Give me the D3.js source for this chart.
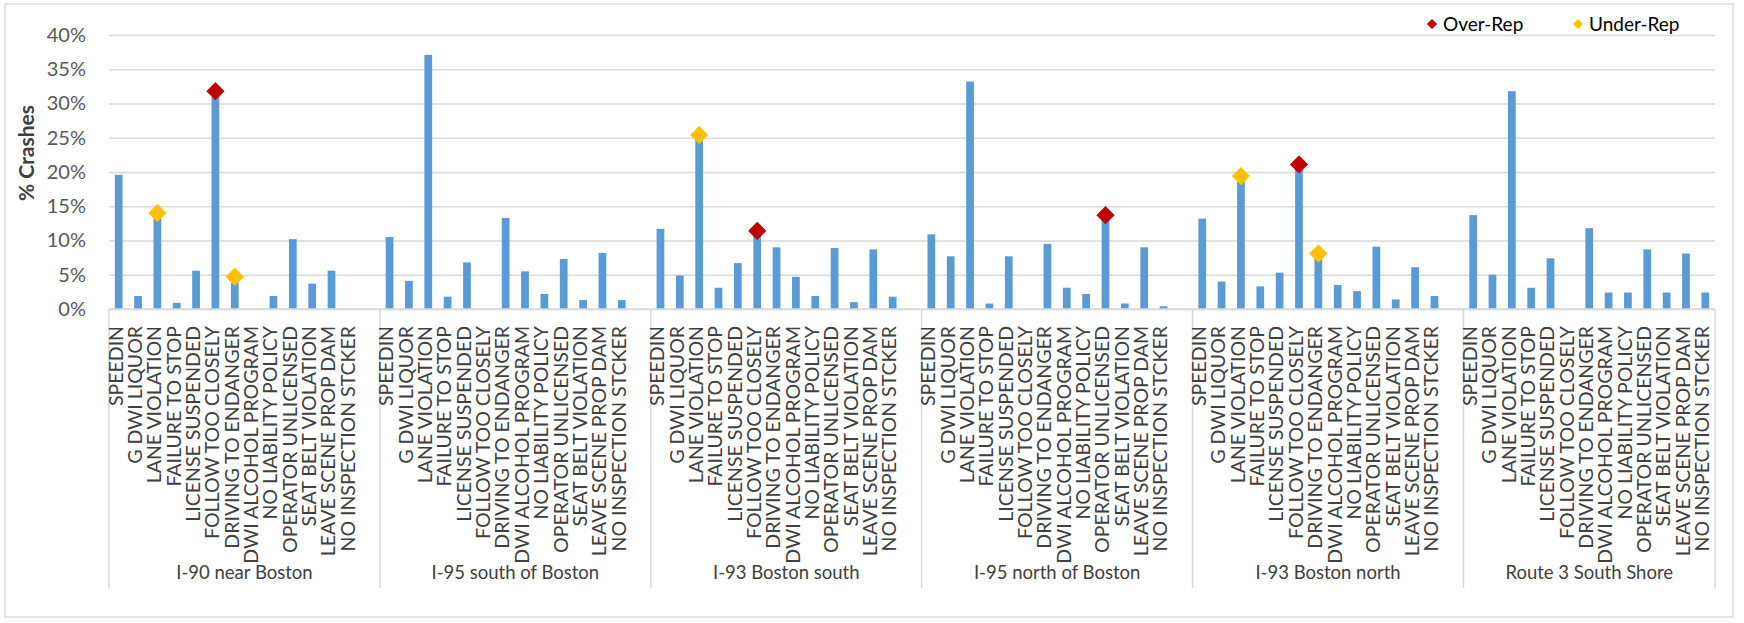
<!DOCTYPE html>
<html>
<head>
<meta charset="utf-8">
<script src="https://cdn.jsdelivr.net/npm/d3@7"></script>
<style>
	body { margin: 0; background: #fff; }
	svg { display: block; font-family: Lato, "Open Sans", sans-serif; }
</style>
</head>
<body>
<div id="chart"></div>
<script>
var categories = ["SPEEDIN", "G DWI LIQUOR", "LANE VIOLATION", "FAILURE TO STOP", "LICENSE SUSPENDED",
	"FOLLOW TOO CLOSELY", "DRIVING TO ENDANGER", "DWI ALCOHOL PROGRAM", "NO LIABILITY POLICY",
	"OPERATOR UNLICENSED", "SEAT BELT VIOLATION", "LEAVE SCENE PROP DAM", "NO INSPECTION STCKER"];

var groups = ["I-90 near Boston", "I-95 south of Boston", "I-93 Boston south",
	"I-95 north of Boston", "I-93 Boston north", "Route 3 South Shore"];

// % crashes per category, one array per road
var i90NearBoston    = [19.6, 1.9, 14.0, 0.9, 5.6, 31.8, 4.7, 0, 1.9, 10.2, 3.7, 5.6, 0];
var i95SouthOfBoston = [10.5, 4.1, 37.1, 1.8, 6.8, 0, 13.3, 5.5, 2.2, 7.3, 1.3, 8.2, 1.3];
var i93BostonSouth   = [11.7, 4.9, 25.4, 3.1, 6.7, 11.4, 9.0, 4.7, 1.9, 8.9, 1.0, 8.7, 1.8];
var i95NorthOfBoston = [10.9, 7.7, 33.2, 0.8, 7.7, 0, 9.5, 3.1, 2.2, 13.7, 0.8, 9.0, 0.4];
var i93BostonNorth   = [13.2, 4.0, 19.4, 3.3, 5.3, 21.1, 8.1, 3.5, 2.6, 9.1, 1.4, 6.1, 1.9];
var route3SouthShore = [13.7, 5.0, 31.8, 3.1, 7.4, 0, 11.8, 2.4, 2.4, 8.7, 2.4, 8.1, 2.4];

var groupValues = [i90NearBoston, i95SouthOfBoston, i93BostonSouth, i95NorthOfBoston, i93BostonNorth, route3SouthShore];

// markers: [group, category, value]
var overRep = [
	["I-90 near Boston", "FOLLOW TOO CLOSELY", 31.8],
	["I-93 Boston south", "FOLLOW TOO CLOSELY", 11.4],
	["I-95 north of Boston", "OPERATOR UNLICENSED", 13.7],
	["I-93 Boston north", "FOLLOW TOO CLOSELY", 21.1]
];
var underRep = [
	["I-90 near Boston", "LANE VIOLATION", 14.0],
	["I-90 near Boston", "DRIVING TO ENDANGER", 4.7],
	["I-93 Boston south", "LANE VIOLATION", 25.4],
	["I-93 Boston north", "LANE VIOLATION", 19.4],
	["I-93 Boston north", "DRIVING TO ENDANGER", 8.1]
];

var yTicks = [0, 5, 10, 15, 20, 25, 30, 35, 40];

var width = 1744, height = 623;
var plot = {left: 109, right: 1715, top: 35, bottom: 309};

var barColor = "#5B9BD5", overColor = "#C00000", underColor = "#FFC000";
var gridColor = "#d9d9d9", textColor = "#404040";

// build the slots: 13 categories per road, blank slot between roads
var slots = [];
var bars = [];
groups.forEach(function (g, gi) {
	categories.forEach(function (c, ci) {
		slots.push(g + "|" + c);
		bars.push({key: g + "|" + c, group: g, category: c, value: groupValues[gi][ci]});
	});
	if (gi < groups.length - 1) slots.push(g + "|gap");
});

var x = d3.scaleBand()
	.domain(slots)
	.range([plot.left, plot.right])
	.paddingInner(0.6)
	.paddingOuter(0.3);

var y = d3.scaleLinear().domain([0, 40]).range([plot.bottom, plot.top]);

function slotEdge(key) {
	return x(key) - x.step() * x.paddingInner() / 2;
}

var svg = d3.select("#chart").append("svg")
	.attr("width", width)
	.attr("height", height);

svg.append("rect")
	.attr("x", 5).attr("y", 4)
	.attr("width", 1728).attr("height", 613)
	.attr("fill", "#fff")
	.attr("stroke", gridColor)
	.attr("stroke-width", 1.3);

// gridlines + y labels
var yAxis = svg.append("g")
	.attr("transform", "translate(" + plot.left + ",0)")
	.call(d3.axisLeft(y)
		.tickValues(yTicks)
		.tickSize(-(plot.right - plot.left))
		.tickPadding(23)
		.tickFormat(function (d) { return d + "%"; }));

yAxis.select(".domain").remove();
yAxis.selectAll("line").attr("stroke", gridColor).attr("stroke-width", 1.5);
yAxis.selectAll("text")
	.attr("fill", "#595959")
	.attr("font-size", "20px")
	.attr("font-family", "Lato, sans-serif");

svg.append("text")
	.attr("transform", "translate(27,153) rotate(-90)")
	.attr("text-anchor", "middle")
	.attr("dy", "0.35em")
	.attr("font-size", "21px")
	.attr("font-weight", "bold")
	.attr("fill", textColor)
	.text("% Crashes");

// bars
svg.append("g").selectAll("rect")
	.data(bars.filter(function (d) { return d.value > 0; }))
	.enter().append("rect")
	.attr("x", function (d) { return x(d.key); })
	.attr("y", function (d) { return y(d.value); })
	.attr("width", x.bandwidth())
	.attr("height", function (d) { return y(0) - y(d.value); })
	.attr("fill", barColor);

// category axis: baseline + group separators
var axisG = svg.append("g");
axisG.append("line")
	.attr("x1", plot.left).attr("x2", plot.right)
	.attr("y1", y(0)).attr("y2", y(0))
	.attr("stroke", gridColor).attr("stroke-width", 1.5);

var edges = groups.map(function (g) { return slotEdge(g + "|" + categories[0]); });
edges.push(plot.right);

axisG.selectAll("line.sep")
	.data(edges)
	.enter().append("line")
	.attr("class", "sep")
	.attr("x1", function (d) { return d; })
	.attr("x2", function (d) { return d; })
	.attr("y1", y(0))
	.attr("y2", 588)
	.attr("stroke", gridColor)
	.attr("stroke-width", 1.5);

axisG.selectAll("text.cat")
	.data(bars)
	.enter().append("text")
	.attr("class", "cat")
	.attr("transform", function (d) {
		return "translate(" + (x(d.key) + x.bandwidth() / 2 - 3) + ",326) rotate(-90)";
	})
	.attr("text-anchor", "end")
	.attr("dy", "0.35em")
	.attr("font-size", "19.5px")
	.attr("fill", textColor)
	.text(function (d) { return d.category; });

axisG.selectAll("text.grp")
	.data(groups)
	.enter().append("text")
	.attr("class", "grp")
	.attr("x", function (d, i) { return (edges[i] + edges[i + 1]) / 2; })
	.attr("y", 573)
	.attr("dy", "0.35em")
	.attr("text-anchor", "middle")
	.attr("font-size", "18.5px")
	.attr("fill", textColor)
	.text(function (d) { return d; });

// diamond markers
var bigDiamond = d3.symbol().type(d3.symbolSquare).size(166);
var smallDiamond = d3.symbol().type(d3.symbolSquare).size(52);

function drawMarkers(list, color) {
	svg.append("g").selectAll("path")
		.data(list)
		.enter().append("path")
		.attr("d", bigDiamond)
		.attr("fill", color)
		.attr("transform", function (d) {
			var k = d[0] + "|" + d[1];
			return "translate(" + (x(k) + x.bandwidth() / 2) + "," + y(d[2]) + ") rotate(45)";
		});
}
drawMarkers(overRep, overColor);
drawMarkers(underRep, underColor);

// legend
var legend = [
	{label: "Over-Rep", color: overColor, x: 1432},
	{label: "Under-Rep", color: underColor, x: 1578}
];
var lg = svg.append("g").selectAll("g")
	.data(legend)
	.enter().append("g")
	.attr("transform", function (d) { return "translate(" + d.x + ",24)"; });

lg.append("path")
	.attr("d", smallDiamond)
	.attr("transform", "rotate(45)")
	.attr("fill", function (d) { return d.color; });

lg.append("text")
	.attr("x", 11)
	.attr("dy", "0.35em")
	.attr("font-size", "19px")
	.attr("fill", "#000")
	.text(function (d) { return d.label; });
</script>
</body>
</html>
